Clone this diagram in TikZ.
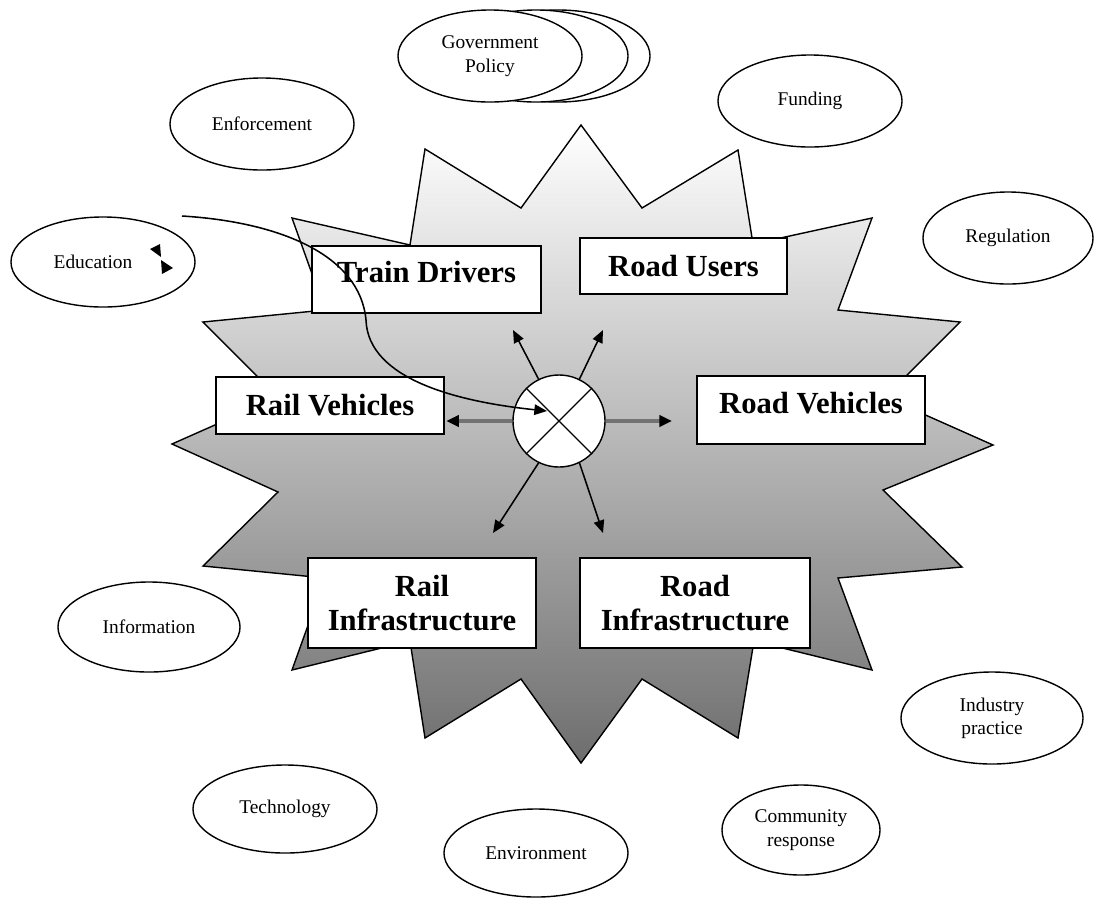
\documentclass[tikz,border=0pt]{standalone}
\usepackage{fontspec}
\setmainfont{Liberation Serif}
\usepackage{tikz}
\usetikzlibrary{shapes.geometric,arrows.meta,calc}

\tikzset{
  factor/.style={ellipse, draw, fill=white, line width=1pt, minimum width=4.6cm, minimum height=2.3cm, inner sep=0pt, align=center, font=\fontsize{13.8}{16.6}\selectfont},
  element/.style={rectangle, draw, fill=white, line width=1.2pt, inner sep=0pt, align=center, font=\fontsize{21.8}{24.5}\selectfont\bfseries},
  raised/.style={text depth=0.37cm},
  spoke/.style={-{Triangle[length=9pt,width=7.5pt]}, line width=1.1pt},
  link/.style={-{Triangle[length=9pt,width=8pt,color=black]}, draw=black!55, line width=2.4pt},
}

\begin{document}
\begin{tikzpicture}[x=0.025cm, y=-0.025cm]
\useasboundingbox (0,0) rectangle (1097,897);

% ===== STAR BACKGROUND =====
\draw[line width=1pt, top color=white, bottom color=black!57]
  (581,125) -- (642,208) -- (738,150) -- (753,244) -- (872,218) -- (838,310)
  -- (960,322) -- (885,397) -- (993,445) -- (883,490) -- (962,567) -- (838,578)
  -- (872,670) -- (754,641) -- (738,738) -- (642,679) -- (581,763) -- (521,679)
  -- (425,738) -- (410,641) -- (292,670) -- (325,578) -- (203,566) -- (278,492)
  -- (172,444) -- (278,397) -- (203,322) -- (325,310) -- (292,218) -- (410,245)
  -- (425,149) -- (521,208) -- cycle;

% ===== SURROUNDING FACTORS =====
% Government policy (stacked)
\node[factor] (gov3) at (558,56) {};
\node[factor] (gov2) at (536,56) {};
\node[factor] (gov) at (490,56) {Government\\Policy};

\node[factor] (enforce) at (262,124) {Enforcement};
\node[factor] (funding) at (810,101) {Funding};
\node[factor, minimum width=4.25cm] (regul) at (1008,238) {Regulation};
\node[factor, minimum height=2.25cm] (educ) at (103,262) {Education\hspace{0.5cm}};
\node[factor, minimum width=4.55cm, minimum height=2.25cm] (inform) at (149,627) {Information};
\node[factor, minimum height=2.2cm] (techno) at (285,809) {Technology};
\node[factor, minimum height=2.2cm] (environ) at (536,853) {Environment};
\node[factor, minimum width=3.95cm, minimum height=2.25cm] (commun) at (801,830) {Community\\response};
\node[factor, minimum width=4.55cm] (industry) at (992,718) {Industry\\practice};

% bow-tie marks beside Education
\fill (150,249) -- (160,244) -- (161,257) -- cycle;
\fill (161,260) -- (162,274) -- (173,268) -- cycle;

% ===== SYSTEM ELEMENTS =====
\node[element, raised, minimum width=5.725cm, minimum height=1.675cm] (train) at (426.5,279.5) {Train Drivers};
\node[element, minimum width=5.175cm, minimum height=1.4cm] (roadusr) at (683.5,266) {Road Users};
\node[element, minimum width=5.7cm, minimum height=1.425cm] (railveh) at (330,405.5) {Rail Vehicles};
\node[element, raised, minimum width=5.7cm, minimum height=1.7cm] (roadveh) at (811,410) {Road Vehicles};
\node[element, minimum width=5.7cm, minimum height=2.25cm] (railinf) at (422,603) {Rail\\Infrastructure};
\node[element, minimum width=5.75cm, minimum height=2.25cm] (roadinf) at (695,603) {Road\\Infrastructure};

% ===== CENTRAL HUB =====
\node[circle, draw, fill=white, line width=1pt, minimum size=2.3cm, inner sep=0pt] (hub) at (559,421) {};
\draw[line width=0.9pt] (hub.45) -- (hub.225);
\draw[line width=0.9pt] (hub.135) -- (hub.-45);

% free ends of the spokes
\coordinate (tdTip) at (513,330);
\coordinate (ruTip) at (603,330);
\coordinate (riTip) at (493,533);
\coordinate (rdTip) at (603,533);
\coordinate (rvTip) at (672,421);

\draw[spoke] (hub.116) -- (tdTip);
\draw[spoke] (hub.64) -- (ruTip);
\draw[spoke] (hub.244) -- (riTip);
\draw[spoke] (hub.296) -- (rdTip);
\draw[link, shorten >=1pt] (hub.west) -- (hub.west -| railveh.east);
\draw[link] (hub.east) -- (rvTip);

% curved feed into the hub
\coordinate (eduStart) at (182,216);
\coordinate (hubIn) at (547,411);
\draw[spoke] (eduStart) .. controls (280,222) and (360,255) .. (366,320)
  .. controls (368,380) and (460,402) .. (hubIn);

\end{tikzpicture}
\end{document}
